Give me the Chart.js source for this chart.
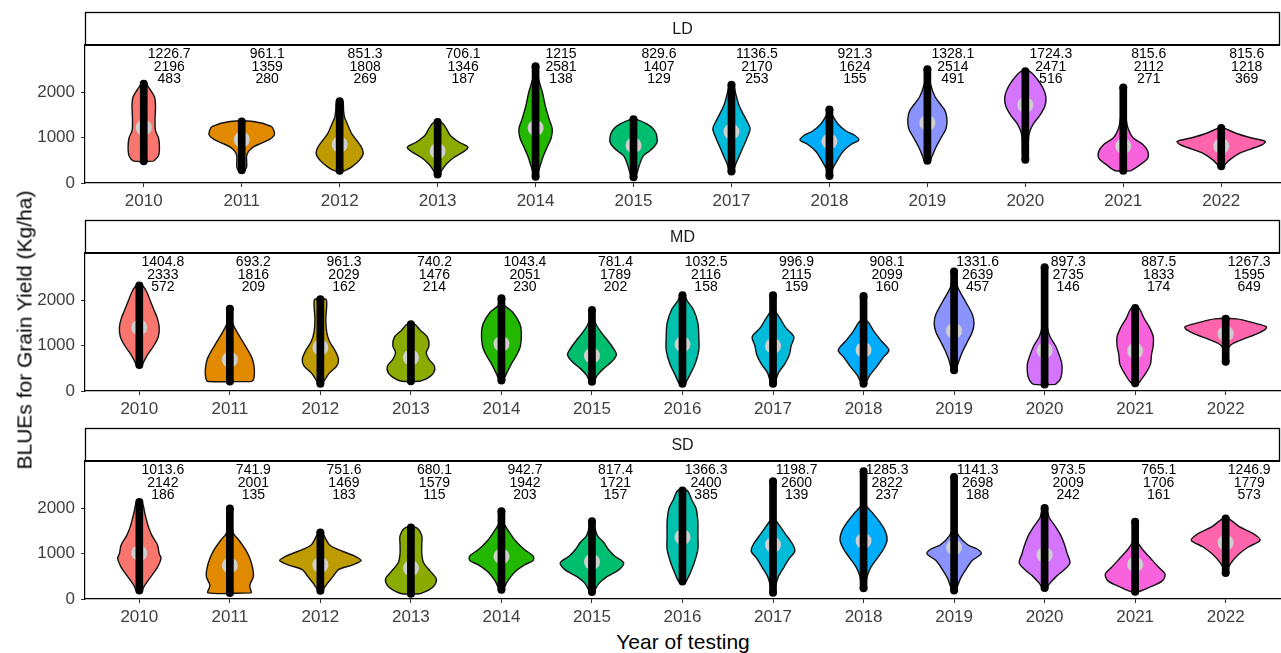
<!DOCTYPE html>
<html>
<head>
<meta charset="utf-8">
<script src="https://cdn.jsdelivr.net/npm/chart.js@4.4.0/dist/chart.umd.min.js"></script>
<style>
  body { margin: 0; background: #fff; }
  #wrap { position: relative; width: 1281px; height: 653px; overflow: hidden;
          font-family: "Liberation Sans", Arial, sans-serif; }
  .panel { position: absolute; left: 0; }
  #ytitle { position: absolute; left: 24px; top: 330px; font-size: 21px; line-height: 1;
            white-space: nowrap; transform: translate(-50%, -50%) rotate(-90deg); }
  #xtitle { position: absolute; left: 683px; top: 641px; font-size: 21px; line-height: 1;
            white-space: nowrap; transform: translate(-50%, -50%); }
</style>
</head>
<body>
<div id="wrap">
  <canvas id="ldChart" class="panel" width="1281" height="208" style="top:0px"></canvas>
  <canvas id="mdChart" class="panel" width="1281" height="208" style="top:208px"></canvas>
  <canvas id="sdChart" class="panel" width="1281" height="208" style="top:416px"></canvas>
  <div id="ytitle">BLUEs for Grain Yield (Kg/ha)</div>
  <div id="xtitle">Year of testing</div>
</div>
<script>
// ---- data ----
const allYears = ['2010','2011','2012','2013','2014','2015','2016','2017','2018','2019','2020','2021','2022'];

// LD (no 2016 trial)
const ldYears = ['2010','2011','2012','2013','2014','2015','2017','2018','2019','2020','2021','2022'];
const ldMean = [1226.7, 961.1, 851.3, 706.1, 1215, 829.6, 1136.5, 921.3, 1328.1, 1724.3, 815.6, 815.6];
const ldMax  = [2196, 1359, 1808, 1346, 2581, 1407, 2170, 1624, 2514, 2471, 2112, 1218];
const ldMin  = [483, 280, 269, 187, 138, 129, 253, 155, 491, 516, 271, 369];
// violin half-widths (category units): at min, interior [value, width], at max
const ldFoot = [0.10, 0.03, 0.05, 0.02, 0.02, 0.02, 0.02, 0.01, 0.03, 0.02, 0.08, 0.02];
const ldTip  = [0.02, 0.12, 0.03, 0.03, 0.01, 0.03, 0.02, 0.01, 0.01, 0.04, 0.01, 0.02];
const ldShape = [
  [[600,0.15],[800,0.16],[1000,0.15],[1150,0.12],[1400,0.115],[1700,0.12],[1900,0.11],[2050,0.07]],
  [[350,0.05],[500,0.05],[600,0.05],[700,0.07],[800,0.12],[880,0.2],[960,0.28],[1050,0.33],[1150,0.33],[1250,0.3]],
  [[350,0.12],[500,0.2],[650,0.24],[800,0.22],[950,0.17],[1100,0.12],[1300,0.08],[1450,0.05],[1600,0.04]],
  [[270,0.04],[420,0.09],[570,0.17],[700,0.27],[790,0.31],[900,0.22],[1050,0.13],[1200,0.09],[1300,0.06]],
  [[250,0.03],[400,0.05],[600,0.08],[800,0.12],[1000,0.16],[1200,0.17],[1400,0.14],[1700,0.1],[2000,0.07],[2300,0.03]],
  [[250,0.04],[400,0.06],[600,0.1],[700,0.16],[800,0.21],[900,0.24],[1000,0.24],[1100,0.23],[1200,0.2],[1300,0.14]],
  [[400,0.04],[600,0.08],[800,0.12],[1000,0.16],[1200,0.19],[1400,0.15],[1700,0.08],[2000,0.04]],
  [[300,0.03],[500,0.08],[700,0.14],[850,0.22],[950,0.3],[1050,0.26],[1150,0.17],[1300,0.09],[1500,0.03]],
  [[600,0.05],[800,0.09],[1000,0.14],[1200,0.19],[1400,0.2],[1600,0.18],[1900,0.08],[2200,0.03]],
  [[700,0.03],[900,0.03],[1100,0.04],[1300,0.08],[1500,0.15],[1700,0.2],[1900,0.21],[2100,0.18],[2300,0.12]],
  [[400,0.17],[550,0.25],[700,0.25],[850,0.2],[1000,0.1],[1200,0.05],[1400,0.03],[1700,0.02]],
  [[500,0.08],[650,0.18],[750,0.3],[850,0.42],[920,0.45],[1000,0.3],[1100,0.15]]
];

// MD
const mdYears = allYears;
const mdMean = [1404.8, 693.2, 961.3, 740.2, 1043.4, 781.4, 1032.5, 996.9, 908.1, 1331.6, 897.3, 887.5, 1267.3];
const mdMax  = [2333, 1816, 2029, 1476, 2051, 1789, 2116, 2115, 2099, 2639, 2735, 1833, 1595];
const mdMin  = [572, 209, 162, 214, 230, 202, 158, 159, 160, 457, 146, 174, 649];
const mdFoot = [0.03, 0.24, 0.02, 0.1, 0.02, 0.02, 0.03, 0.02, 0.02, 0.02, 0.12, 0.04, 0.01];
const mdTip  = [0.03, 0.01, 0.06, 0.04, 0.01, 0.01, 0.02, 0.01, 0.01, 0.01, 0.01, 0.04, 0.12];
const mdShape = [
  [[650,0.05],[800,0.09],[1000,0.16],[1200,0.21],[1400,0.22],[1600,0.2],[1800,0.16],[2000,0.12],[2200,0.08]],
  [[250,0.26],[350,0.27],[500,0.27],[700,0.25],[900,0.2],[1100,0.14],[1300,0.08],[1450,0.04],[1600,0.015]],
  [[250,0.05],[400,0.1],[550,0.18],[700,0.2],[900,0.16],[1100,0.1],[1300,0.07],[1600,0.06],[1900,0.07]],
  [[280,0.18],[400,0.25],[550,0.26],[700,0.2],[850,0.17],[1000,0.2],[1200,0.18],[1350,0.1]],
  [[400,0.06],[600,0.11],[800,0.17],[1000,0.21],[1300,0.22],[1500,0.2],[1750,0.12],[1900,0.03]],
  [[350,0.06],[500,0.13],[650,0.22],[800,0.27],[900,0.25],[1100,0.18],[1300,0.1],[1500,0.04]],
  [[350,0.08],[600,0.14],[900,0.18],[1200,0.18],[1500,0.17],[1800,0.12],[2000,0.05]],
  [[400,0.06],[600,0.13],[800,0.18],[1000,0.2],[1200,0.23],[1400,0.14],[1600,0.08],[1800,0.02]],
  [[350,0.07],[550,0.15],[750,0.22],[900,0.28],[1100,0.2],[1300,0.12],[1500,0.06],[1600,0.02]],
  [[700,0.06],[900,0.1],[1100,0.15],[1300,0.2],[1500,0.22],[1700,0.2],[2000,0.12],[2300,0.04]],
  [[250,0.17],[400,0.19],[600,0.19],[800,0.16],[1000,0.12],[1200,0.06],[1400,0.03],[1800,0.02],[2300,0.015]],
  [[400,0.12],[600,0.17],[800,0.18],[1000,0.2],[1200,0.2],[1400,0.16],[1600,0.1]],
  [[800,0.02],[950,0.03],[1050,0.08],[1150,0.2],[1250,0.33],[1350,0.43],[1420,0.45],[1500,0.32]]
];

// SD
const sdYears = allYears;
const sdMean = [1013.6, 741.9, 751.6, 680.1, 942.7, 817.4, 1366.3, 1198.7, 1285.3, 1141.3, 973.5, 765.1, 1246.9];
const sdMax  = [2142, 2001, 1469, 1579, 1942, 1721, 2400, 2600, 2822, 2698, 2009, 1706, 1779];
const sdMin  = [186, 135, 183, 115, 203, 157, 385, 139, 237, 188, 242, 161, 573];
const sdFoot = [0.03, 0.24, 0.02, 0.1, 0.02, 0.02, 0.04, 0.02, 0.02, 0.02, 0.02, 0.04, 0.01];
const sdTip  = [0.03, 0.01, 0.02, 0.06, 0.01, 0.01, 0.05, 0.01, 0.01, 0.01, 0.02, 0.01, 0.03];
const sdShape = [
  [[300,0.06],[500,0.13],[700,0.2],[900,0.24],[1000,0.22],[1200,0.2],[1400,0.14],[1600,0.1],[1900,0.06]],
  [[300,0.22],[500,0.26],[700,0.25],[900,0.22],[1100,0.17],[1300,0.1],[1450,0.04],[1700,0.02]],
  [[350,0.08],[500,0.14],[650,0.2],[750,0.35],[850,0.45],[950,0.38],[1050,0.25],[1200,0.1]],
  [[200,0.2],[300,0.26],[450,0.28],[600,0.22],[800,0.14],[1000,0.12],[1200,0.12],[1400,0.12]],
  [[400,0.07],[600,0.15],[750,0.25],[850,0.35],[950,0.35],[1100,0.25],[1300,0.15],[1500,0.08],[1700,0.02]],
  [[350,0.08],[500,0.17],[650,0.3],[800,0.35],[950,0.25],[1100,0.18],[1250,0.13],[1400,0.06]],
  [[550,0.08],[800,0.13],[1100,0.17],[1400,0.17],[1700,0.17],[2000,0.15],[2200,0.1]],
  [[300,0.03],[500,0.06],[700,0.12],[900,0.18],[1050,0.24],[1200,0.22],[1400,0.15],[1600,0.08],[1800,0.02]],
  [[500,0.04],[700,0.08],[900,0.15],[1100,0.22],[1300,0.26],[1500,0.24],[1700,0.18],[1900,0.1],[2100,0.02]],
  [[450,0.07],[650,0.13],[850,0.2],[1000,0.3],[1100,0.26],[1200,0.15],[1400,0.05],[1600,0.015]],
  [[350,0.06],[500,0.13],[650,0.22],[800,0.28],[1000,0.25],[1200,0.22],[1400,0.18],[1600,0.12],[1800,0.05]],
  [[250,0.15],[400,0.3],[550,0.33],[700,0.26],[900,0.17],[1100,0.08],[1300,0.02]],
  [[650,0.02],[800,0.06],[1000,0.15],[1150,0.25],[1300,0.38],[1450,0.3],[1600,0.15]]
];

// ---- styling ----
const FONT = '"Liberation Sans", Arial, sans-serif';
const hue = ['#F8766D','#E18A00','#BE9C00','#8CAB00','#24B700','#00BE70','#00C1AB',
             '#00BBDA','#00ACFC','#8B93FF','#D575FE','#F962DD','#FF65AC'];
const labelMid = 2570;   // y value of the middle text row
const yTop = 3050;

Chart.defaults.font.family = FONT;

// closed outline: right side bottom->top, then left side top->bottom
function violinOutline(i, lo, hi, foot, tip, profile) {
  const side = [[lo, foot], ...profile, [hi, tip]];
  const right = side.map(([v, w]) => ({x: i + w, y: v}));
  const left = side.slice().reverse().map(([v, w]) => ({x: i - w, y: v}));
  return right.concat(left, [right[0]]);
}

// strip header and the mean / max / min text above each violin
const facetPlugin = {
  id: 'facet',
  afterDatasetsDraw(chart, args, opts) {
    const {ctx, chartArea: a, scales: {x, y}} = chart;
    ctx.save();
    const top = 12.5;
    ctx.fillStyle = '#fff';
    ctx.fillRect(a.left, top, a.right - a.left, a.top - top);
    ctx.strokeStyle = '#000';
    ctx.lineWidth = 1.3;
    ctx.strokeRect(a.left + 0.5, top, a.right - a.left - 1, a.top - top);
    ctx.lineWidth = 2;
    ctx.beginPath();
    ctx.moveTo(a.left, a.top);
    ctx.lineTo(a.right, a.top);
    ctx.stroke();
    ctx.fillStyle = '#1a1a1a';
    ctx.font = '16px ' + FONT;
    ctx.textAlign = 'center';
    ctx.textBaseline = 'middle';
    ctx.fillText(opts.strip, (a.left + a.right) / 2, (top + a.top) / 2 + 1);

    ctx.fillStyle = '#000';
    ctx.font = '14px ' + FONT;
    const mid = y.getPixelForValue(labelMid);
    opts.rows.forEach((row, k) => {
      row.forEach((val, i) => {
        ctx.fillText(String(val), x.getPixelForValue(i + 0.26), mid + (k - 1) * 12.3);
      });
    });
    ctx.restore();
  }
};

function drawPanel(id, strip, years, means, maxs, mins, foot, tip, shapes) {
  const datasets = years.map((yr, i) => ({
    type: 'line',
    data: violinOutline(i, mins[i], maxs[i], foot[i], tip[i], shapes[i]),
    borderColor: '#111',
    borderWidth: 1.4,
    backgroundColor: hue[allYears.indexOf(yr)],
    fill: 'shape',
    pointRadius: 0,
    tension: 0.3,
    order: 4
  }));
  // mean marker
  datasets.push({
    type: 'line', showLine: false,
    data: means.map((m, i) => ({x: i, y: m})),
    pointRadius: 8, pointBackgroundColor: '#cfcfcf', pointBorderWidth: 0,
    order: 3
  });
  // observations span min..max
  datasets.push({
    type: 'bar',
    data: years.map((_, i) => ({x: i, y: [mins[i], maxs[i]]})),
    backgroundColor: '#000',
    barThickness: 7,
    order: 2
  });
  datasets.push({
    type: 'line', showLine: false,
    data: mins.map((v, i) => ({x: i, y: v})).concat(maxs.map((v, i) => ({x: i, y: v}))),
    pointRadius: 4, pointBackgroundColor: '#000', pointBorderWidth: 0,
    order: 1
  });

  new Chart(document.getElementById(id), {
    type: 'line',
    data: {datasets},
    options: {
      responsive: false,
      animation: false,
      devicePixelRatio: 1,
      events: [],
      layout: {padding: {top: 45, right: 1, left: 0, bottom: 0}, autoPadding: false},
      plugins: {
        legend: {display: false},
        tooltip: {enabled: false},
        facet: {strip, rows: [means, maxs, mins]}
      },
      scales: {
        x: {
          type: 'linear',
          offset: false,
          min: -0.6,
          max: years.length - 0.4,
          afterBuildTicks: s => { s.ticks = years.map((_, i) => ({value: i})); },
          afterFit: s => { s.height = 25; },
          ticks: {
            callback: v => years[v],
            autoSkip: false, maxRotation: 0,
            color: '#404040', font: {size: 17}, padding: 4
          },
          grid: {offset: false, drawOnChartArea: false, tickLength: 4, tickColor: '#333'},
          border: {display: true, color: '#000', width: 1.2}
        },
        y: {
          min: 0,
          max: yTop,
          afterBuildTicks: s => { s.ticks = [0, 1000, 2000].map(v => ({value: v})); },
          afterFit: s => { s.width = 85; },
          ticks: {callback: v => String(v), color: '#404040', font: {size: 17}, padding: 6},
          grid: {drawOnChartArea: false, tickLength: 4, tickColor: '#333'},
          border: {display: true, color: '#000', width: 1.2}
        }
      }
    },
    plugins: [facetPlugin]
  });
}

drawPanel('ldChart', 'LD', ldYears, ldMean, ldMax, ldMin, ldFoot, ldTip, ldShape);
drawPanel('mdChart', 'MD', mdYears, mdMean, mdMax, mdMin, mdFoot, mdTip, mdShape);
drawPanel('sdChart', 'SD', sdYears, sdMean, sdMax, sdMin, sdFoot, sdTip, sdShape);
</script>
</body>
</html>
